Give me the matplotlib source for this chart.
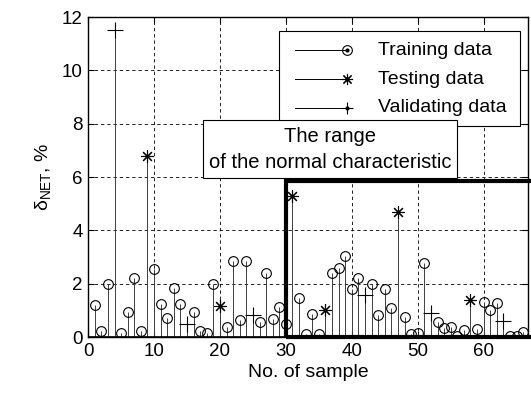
import matplotlib
matplotlib.use('Agg')
import matplotlib.pyplot as plt
from matplotlib.patches import Rectangle
import numpy as np

plt.rcParams['font.family'] = ['Liberation Sans', 'DejaVu Sans']
plt.rcParams['mathtext.fontset'] = 'custom'
plt.rcParams['mathtext.rm'] = 'Liberation Sans'
plt.rcParams['mathtext.it'] = 'Liberation Sans:italic'

# sample numbers and relative error (%) of each data set
train_idx = [1, 2, 3, 5, 6, 7, 8, 10, 11, 12, 13, 14, 16, 17, 18, 19, 21, 22, 23, 24,
             26, 27, 28, 29, 30, 32, 33, 34, 35, 37, 38, 39, 40, 41, 43, 44, 45, 46,
             48, 49, 50, 51, 53, 54, 55, 56, 57, 59, 60, 61, 62, 64, 65, 66]
train_val = [1.2, 0.22, 2.0, 0.15, 0.93, 2.2, 0.22, 2.55, 1.25, 0.73, 1.86, 1.25, 0.95,
             0.22, 0.15, 2.0, 0.38, 2.85, 0.63, 2.85, 0.55, 2.4, 0.68, 1.13, 0.48, 1.45,
             0.1, 0.85, 0.1, 2.4, 2.58, 3.05, 1.8, 2.2, 1.98, 0.83, 1.8, 1.1, 0.75, 0.12,
             0.15, 2.78, 0.55, 0.35, 0.38, 0.05, 0.27, 0.3, 1.33, 1.0, 1.28, 0.05, 0.05, 0.2]
test_idx = [9, 20, 31, 36, 47, 58]
test_val = [6.8, 1.17, 5.28, 1.0, 4.7, 1.39]
valid_idx = [4, 15, 25, 42, 52, 63]
valid_val = [11.5, 0.5, 0.82, 1.58, 0.9, 0.6]

normal_start = 30
normal_top = 5.85

star = (8, 2, 0)

fig = plt.figure(figsize=(5.31, 3.98), dpi=100)
ax = fig.add_axes([0.166, 0.153, 0.828, 0.804])

stem_kw = dict(colors='0.25', linewidth=0.7, zorder=2)
ax.vlines(train_idx, 0, train_val, **stem_kw)
ax.vlines(test_idx, 0, test_val, **stem_kw)
ax.vlines(valid_idx, 0, valid_val, **stem_kw)
ax.plot(train_idx, train_val, 'o', ms=7, mfc='none', mec='k', mew=0.8, zorder=3)
ax.plot(test_idx, test_val, ls='none', marker=star, ms=9, mec='k', mew=0.8, zorder=3)
ax.plot(valid_idx, valid_val, '+', ms=11, mec='k', mew=0.8, zorder=3)
ax.axhline(0, color='k', lw=1.2, zorder=3)

# thick box marking the normal characteristic range
ax.add_patch(Rectangle((normal_start, 0), 70 - normal_start, normal_top,
                       fill=False, ec='k', lw=3, zorder=4, clip_on=False))

ax.set_xlim(0, 66.7)
ax.set_ylim(0, 12)
ax.set_xticks(np.arange(0, 61, 10))
ax.set_yticks(np.arange(0, 13, 2))
ax.grid(True, color='k', ls=(0, (4, 3.5)), lw=0.6)
ax.tick_params(direction='in', length=4, top=True, right=True, labelsize=13.5, pad=4)
for s in ax.spines.values():
    s.set_linewidth(1.0)
ax.set_xlabel('No. of sample', fontsize=14, labelpad=3)
ax.set_ylabel('δ$_{\\mathrm{NET}}$, %', fontsize=14, labelpad=6)

# legend drawn by hand (MATLAB stem style: line with marker at end)
ax.add_patch(Rectangle((0.434, 0.66), 0.548, 0.296, transform=ax.transAxes,
                       fc='white', ec='k', lw=0.8, zorder=5))
rows = [(0.897, 'o', 'Training data'), (0.806, star, 'Testing data'),
        (0.716, '+', 'Validating data')]
for y, m, lab in rows:
    ax.plot([0.470, 0.589], [y, y], color='k', lw=0.7, transform=ax.transAxes, zorder=6)
    if m == 'o':
        ax.plot(0.589, y, marker='o', ms=7, mfc='none', mec='k', mew=0.8,
                transform=ax.transAxes, zorder=6)
    else:
        ax.plot(0.589, y, marker=m, ms=8, mec='k', mew=0.8,
                transform=ax.transAxes, zorder=6)
    ax.plot(0.589, y, marker='.', ms=4, color='k', transform=ax.transAxes, zorder=6)
    ax.text(0.659, y, lab, fontsize=14, va='center', ha='left',
            transform=ax.transAxes, zorder=6)

# annotation box
ax.add_patch(Rectangle((0.261, 0.497), 0.578, 0.181, transform=ax.transAxes,
                       fc='white', ec='k', lw=0.8, zorder=7))
ax.text(0.55, 0.627, 'The range', fontsize=14.5, ha='center', va='center',
        transform=ax.transAxes, zorder=8)
ax.text(0.55, 0.547, 'of the normal characteristic', fontsize=14.5, ha='center',
        va='center', transform=ax.transAxes, zorder=8)

fig.savefig('out.png', dpi=100)
